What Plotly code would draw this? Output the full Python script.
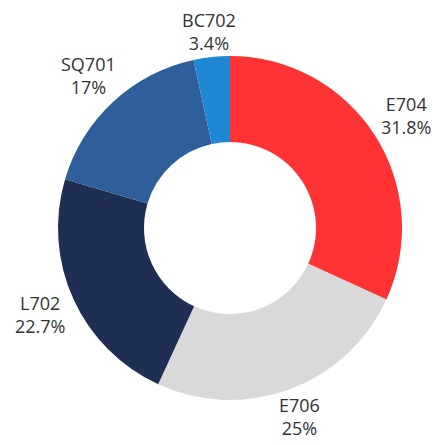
import math
import plotly.graph_objects as go

labels = ["E704", "E706", "L702", "SQ701", "BC702"]
values = [31.8, 25.0, 22.7, 17.0, 3.4]
pct_text = ["31.8%", "25%", "22.7%", "17%", "3.4%"]
colors = ["#FF3333", "#D9D9D9", "#1F2F54", "#2E5F9A", "#1E87D6"]

FONT_SIZE = 18
PLOT_PX = 344          # side of the square plot area (px)
R_OUT = PLOT_PX / 2    # outer pie radius (px)
GAP = 5                # gap between ring and label box (px)

fig = go.Figure(go.Pie(
    labels=labels,
    values=values,
    hole=0.5,
    sort=False,
    direction="clockwise",
    rotation=0,
    textinfo="none",
    marker=dict(colors=colors, line=dict(width=0)),
    showlegend=False,
    hoverinfo="label+percent",
    domain=dict(x=[0, 1], y=[0, 1]),
))

# outside labels centred on each slice's mid-angle ray (derived from the values)
total = sum(values)
cum = 0.0
for lab, v, pt in zip(labels, values, pct_text):
    theta = 2 * math.pi * (cum + v / 2) / total
    cum += v
    s, c = math.sin(theta), math.cos(theta)
    w = max(len(lab), len(pt)) * 0.58 * FONT_SIZE   # approx. label width
    h = 2.0 * FONT_SIZE                             # approx. label height
    d = R_OUT + GAP + abs(s) * w / 2 + abs(c) * h / 2
    fig.add_annotation(
        x=0.5 + d * s / PLOT_PX, y=0.5 + d * c / PLOT_PX,
        xref="paper", yref="paper",
        text=f"{lab}<br>{pt}",
        showarrow=False,
        xanchor="center", yanchor="middle",
        align="center",
        font=dict(family="Open Sans, sans-serif", size=FONT_SIZE, color="#333333"),
    )

fig.update_layout(
    width=440, height=445,
    margin=dict(l=50, r=46, t=48, b=53),
    paper_bgcolor="white",
    plot_bgcolor="white",
)

fig.write_html("out.html")
